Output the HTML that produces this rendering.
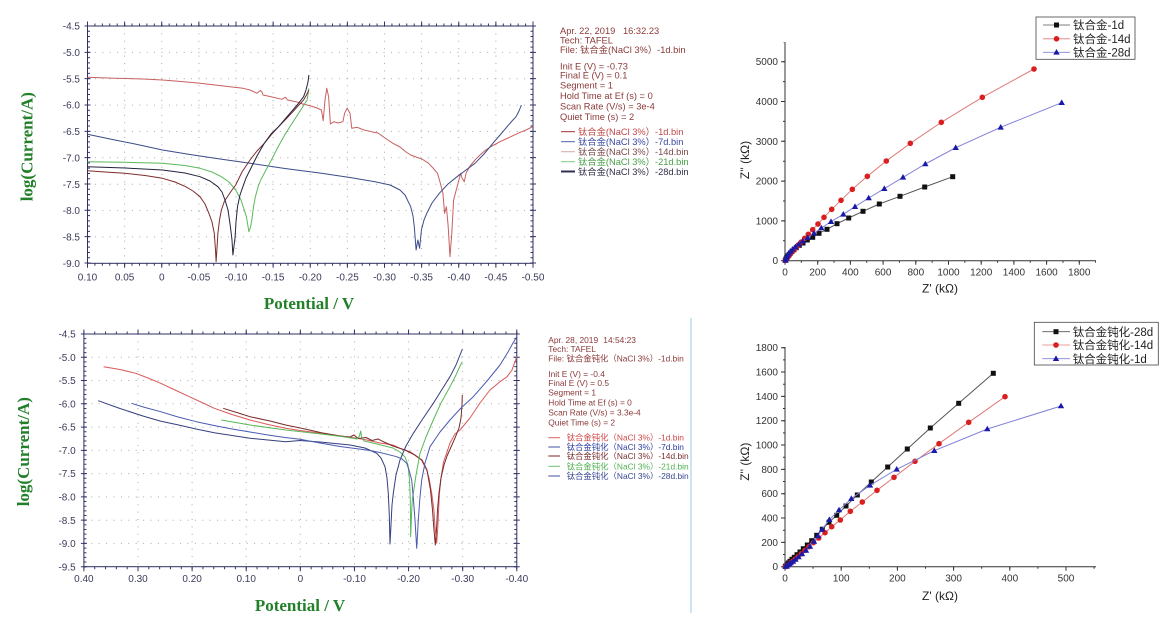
<!DOCTYPE html>
<html><head><meta charset="utf-8"><style>
html,body{margin:0;padding:0;background:#fff;}
svg{display:block}
.tk{font-family:"Liberation Sans","Noto Sans CJK SC",sans-serif;font-size:10px;fill:#3b3b5b}
.tk2{font-family:"Liberation Sans",sans-serif;font-size:10px;fill:#333}
.ttl{font-family:"Liberation Serif",serif;font-weight:bold;font-size:17px;fill:#23802a}
.inf{font-family:"Liberation Sans","Noto Sans CJK SC",sans-serif;font-size:9.3px;fill:#8b3a3a}
.inf2{font-family:"Liberation Sans","Noto Sans CJK SC",sans-serif;font-size:8.4px;fill:#8b3a3a}
.lg{font-family:"Liberation Sans","Noto Sans CJK SC",sans-serif;font-size:11.5px;fill:#222}
.ax{font-family:"Liberation Sans",sans-serif;font-size:12px;fill:#222}
.grid{stroke:#a9a9a9;stroke-width:1;stroke-dasharray:1 6.4;fill:none}
.c{fill:none;stroke-width:1;stroke-linejoin:round}
</style></head><body>
<svg width="1165" height="624" viewBox="0 0 1165 624" xmlns="http://www.w3.org/2000/svg">
<defs>
<marker id="msq" viewBox="-3 -3 6 6" markerWidth="6" markerHeight="6" refX="0" refY="0" markerUnits="userSpaceOnUse"><rect x="-2.5" y="-2.5" width="5" height="5" fill="#111"/></marker>
<marker id="mci" viewBox="-3 -3 6 6" markerWidth="6" markerHeight="6" refX="0" refY="0" markerUnits="userSpaceOnUse"><circle r="2.8" fill="#d81e1e"/></marker>
<marker id="mtr" viewBox="-3.5 -3.5 7 7" markerWidth="7" markerHeight="7" refX="0" refY="0" markerUnits="userSpaceOnUse"><path d="M0,-3.3 L3.2,2.3 L-3.2,2.3Z" fill="#1a1aa8"/></marker>
</defs>
<rect width="1165" height="624" fill="#fff"/>

<!-- ================= TOP LEFT TAFEL ================= -->
<g>
<g class="grid">
<line x1="124.6" y1="26" x2="124.6" y2="263.3"/><line x1="161.75" y1="26" x2="161.75" y2="263.3"/><line x1="198.9" y1="26" x2="198.9" y2="263.3"/><line x1="236" y1="26" x2="236" y2="263.3"/><line x1="273.1" y1="26" x2="273.1" y2="263.3"/><line x1="310.25" y1="26" x2="310.25" y2="263.3"/><line x1="347.4" y1="26" x2="347.4" y2="263.3"/><line x1="384.5" y1="26" x2="384.5" y2="263.3"/><line x1="421.6" y1="26" x2="421.6" y2="263.3"/><line x1="458.75" y1="26" x2="458.75" y2="263.3"/><line x1="495.9" y1="26" x2="495.9" y2="263.3"/>
<line x1="87.5" y1="52.4" x2="533" y2="52.4"/><line x1="87.5" y1="78.7" x2="533" y2="78.7"/><line x1="87.5" y1="105.1" x2="533" y2="105.1"/><line x1="87.5" y1="131.5" x2="533" y2="131.5"/><line x1="87.5" y1="157.8" x2="533" y2="157.8"/><line x1="87.5" y1="184.2" x2="533" y2="184.2"/><line x1="87.5" y1="210.6" x2="533" y2="210.6"/><line x1="87.5" y1="236.9" x2="533" y2="236.9"/>
</g>
<rect x="87.5" y="26" width="445.5" height="237.3" fill="none" stroke="#2f2f5f" stroke-width="1"/>
<g stroke="#34346a" fill="none">
<line x1="87" y1="24.75" x2="534" y2="24.75" stroke-width="2.5" stroke-dasharray="1 6.425"/>
<line x1="87" y1="264.55" x2="534" y2="264.55" stroke-width="2.5" stroke-dasharray="1 6.425"/>
<line x1="87" y1="23.75" x2="534" y2="23.75" stroke-width="4.5" stroke-dasharray="1 36.125"/>
<line x1="87" y1="265.55" x2="534" y2="265.55" stroke-width="4.5" stroke-dasharray="1 36.125"/>
<line x1="88.75" y1="25.5" x2="88.75" y2="264" stroke-width="2.5" stroke-dasharray="1 4.266"/>
<line x1="531.75" y1="25.5" x2="531.75" y2="264" stroke-width="2.5" stroke-dasharray="1 4.266"/>
<line x1="87.5" y1="25.5" x2="87.5" y2="264" stroke-width="6" stroke-dasharray="1 25.33"/>
<line x1="533" y1="25.5" x2="533" y2="264" stroke-width="6" stroke-dasharray="1 25.33"/>
</g>
<g class="tk" text-anchor="middle">
<text x="87.5" y="280.3">0.10</text><text x="124.6" y="280.3">0.05</text><text x="161.75" y="280.3">0</text><text x="198.9" y="280.3">-0.05</text><text x="236" y="280.3">-0.10</text><text x="273.1" y="280.3">-0.15</text><text x="310.25" y="280.3">-0.20</text><text x="347.4" y="280.3">-0.25</text><text x="384.5" y="280.3">-0.30</text><text x="421.6" y="280.3">-0.35</text><text x="458.75" y="280.3">-0.40</text><text x="495.9" y="280.3">-0.45</text><text x="533" y="280.3">-0.50</text>
</g>
<g class="tk" text-anchor="end">
<text x="80" y="29.6">-4.5</text><text x="80" y="56">-5.0</text><text x="80" y="82.3">-5.5</text><text x="80" y="108.7">-6.0</text><text x="80" y="135.1">-6.5</text><text x="80" y="161.4">-7.0</text><text x="80" y="187.8">-7.5</text><text x="80" y="214.2">-8.0</text><text x="80" y="240.5">-8.5</text><text x="80" y="266.9">-9.0</text>
</g>
<text class="ttl" x="309" y="309" text-anchor="middle">Potential / V</text>
<text class="ttl" transform="translate(32.5,146.7) rotate(-90)" text-anchor="middle">log(Current/A)</text>

<path class="c" stroke="#c86060" d="M87.5,77.3 L100,77.8 L115,78.2 L130,78.6 L143,79 L155,79.6 L162.5,80 L175,81 L187,82 L200,83.3 L215,85 L230,86.8 L243,88.3 L250,90 L257,93.3 L259,91.5 L260.5,90.5 L262,92 L263,95 L270,96.5 L282,99.3 L284,98 L285.5,97.3 L287.5,100 L296,101.7 L303,104 L311,106 L317,108 L321.4,110 L323.2,120.7 L325,100 L326.8,88.3 L328.6,96.7 L330.4,124 L333.9,121.7 L338,123 L342.9,121.7 L344.6,113.3 L347.1,108.3 L350,113.3 L351.8,128.3 L357.1,127.3 L364,130 L371.4,131.7 L378,133 L385,138 L392.9,143.3 L400,147 L406,152 L410.7,155 L416,157 L422,159 L428.6,163.3 L433,168 L437.5,173.3 L440,182 L442.9,193.3 L444.6,213.3 L446.4,206.7 L448.2,226.7 L450,256.7 L451.8,233.3 L453.6,200 L457.1,186.7 L460.7,173.3 L462,178 L464.3,181.7 L466,173.3 L470,166 L475,160 L480,155 L485.7,150 L492,146 L500,141.7 L508,138 L517.9,133.3 L526,130 L533,126.5"/>
<path class="c" stroke="#3c4c88" d="M87.5,134.3 L110,139 L135,144 L162.5,150 L190,154.5 L220,159 L250,163.3 L285,168.5 L321.4,173.3 L350,177.5 L375,181.7 L390,185 L400,190 L405,195 L410.7,206.7 L413,216 L414.3,226.7 L416.1,250 L417.9,240 L419.6,248.3 L421.4,230 L424,220 L426.8,213.3 L432,203 L439.3,193.3 L448,184 L457.1,176.7 L466,170 L475,163.3 L484,154 L492.9,143.3 L500,135 L507.1,126.7 L512,121 L516.1,116.7 L519,111 L521.4,105"/>
<path class="c" stroke="#5cb85c" d="M87.5,161.7 L125,162.3 L162.5,163.3 L185,165.5 L200,168.3 L212,172 L221.4,176.7 L229,182 L235.7,190 L241,200 L246.4,216.7 L248.9,231.7 L250.3,228 L251.8,220 L253.5,207 L255.4,196.7 L258,187 L260.7,180 L266,170 L271.4,160 L278,147 L285.7,133.3 L291,125 L296.4,116.7 L302,108 L307.1,100 L308.9,88.3"/>
<path class="c" stroke="#7b2d2d" d="M87.5,170.7 L105,172 L125,173.3 L145,175.5 L162.5,178.3 L175,182 L185.7,186.7 L193,191 L200,196.7 L205,204 L208.9,213.3 L212,222 L214.3,233.3 L215.5,250 L216.1,261.7 L217,248 L217.9,233.3 L219.5,220 L221.4,210 L224.5,201 L228.6,195 L232,190 L235.7,185 L242,172 L250,160 L257,151 L264.3,143.3 L271,135 L278.6,126.7 L286,119 L292.9,111.7 L298,106 L303.6,100 L306.5,95 L308.9,90"/>
<path class="c" stroke="#23233f" d="M87.5,166.7 L125,168 L162.5,170 L185,173 L200,176.7 L210,181 L217.9,186.7 L222,192 L225,200 L228,210 L230.4,226.7 L232,240 L232.9,255 L234,246 L235,238.3 L236,222 L237.5,206.7 L240,195 L242.9,186.7 L246,178 L250,170 L257,156 L264.3,143.3 L271,134 L278.6,126.7 L286,118 L292.9,110 L298,104 L303.6,96.7 L306,90 L308,82 L308.9,75"/>
</g>

<!-- TL info text -->
<g class="inf">
<text x="560" y="34">Apr. 22, 2019</text><text x="623" y="34">16:32.23</text>
<text x="560" y="43.3">Tech: TAFEL</text>
<text x="560" y="53">File: 钛合金(NaCl 3%）-1d.bin</text>
<text x="560" y="69.3">Init E (V) = -0.73</text>
<text x="560" y="78.3">Final E (V) = 0.1</text>
<text x="560" y="88.3">Segment = 1</text>
<text x="560" y="98.8">Hold Time at Ef (s) = 0</text>
<text x="560" y="109.3">Scan Rate (V/s) = 3e-4</text>
<text x="560" y="120">Quiet Time (s) = 2</text>
</g>
<g stroke-width="1">
<line x1="561" y1="131.7" x2="575" y2="131.7" stroke="#a03030"/>
<line x1="561" y1="141.7" x2="575" y2="141.7" stroke="#5060a8"/>
<line x1="561" y1="151.7" x2="575" y2="151.7" stroke="#d0a8a8"/>
<line x1="561" y1="161.7" x2="575" y2="161.7" stroke="#80c880"/>
<line x1="561" y1="171.5" x2="575" y2="171.5" stroke="#303050" stroke-width="2"/>
</g>
<g class="inf">
<text x="578" y="135" fill="#c04848">钛合金(NaCl 3%）-1d.bin</text>
<text x="578" y="145" fill="#3848a0">钛合金(NaCl 3%）-7d.bin</text>
<text x="578" y="155" fill="#7a4a4a">钛合金(NaCl 3%）-14d.bin</text>
<text x="578" y="165" fill="#48a048">钛合金(NaCl 3%）-21d.bin</text>
<text x="578" y="174.8" fill="#303048">钛合金(NaCl 3%）-28d.bin</text>
</g>

<!-- ================= BOTTOM LEFT TAFEL ================= -->
<g>
<g class="grid">
<line x1="138" y1="334" x2="138" y2="566.7"/><line x1="192.1" y1="334" x2="192.1" y2="566.7"/><line x1="246.2" y1="334" x2="246.2" y2="566.7"/><line x1="300.35" y1="334" x2="300.35" y2="566.7"/><line x1="354.5" y1="334" x2="354.5" y2="566.7"/><line x1="408.6" y1="334" x2="408.6" y2="566.7"/><line x1="462.7" y1="334" x2="462.7" y2="566.7"/>
<line x1="83.9" y1="357.3" x2="516.8" y2="357.3"/><line x1="83.9" y1="380.5" x2="516.8" y2="380.5"/><line x1="83.9" y1="403.8" x2="516.8" y2="403.8"/><line x1="83.9" y1="427.1" x2="516.8" y2="427.1"/><line x1="83.9" y1="450.4" x2="516.8" y2="450.4"/><line x1="83.9" y1="473.6" x2="516.8" y2="473.6"/><line x1="83.9" y1="496.9" x2="516.8" y2="496.9"/><line x1="83.9" y1="520.2" x2="516.8" y2="520.2"/><line x1="83.9" y1="543.4" x2="516.8" y2="543.4"/>
</g>
<rect x="83.9" y="334" width="432.9" height="232.7" fill="none" stroke="#2f2f5f" stroke-width="1"/>
<g stroke="#34346a" fill="none">
<line x1="83.4" y1="332.75" x2="518" y2="332.75" stroke-width="2.5" stroke-dasharray="1 9.822"/>
<line x1="83.4" y1="567.95" x2="518" y2="567.95" stroke-width="2.5" stroke-dasharray="1 9.822"/>
<line x1="83.4" y1="331.75" x2="518" y2="331.75" stroke-width="4.5" stroke-dasharray="1 53.11"/>
<line x1="83.4" y1="568.95" x2="518" y2="568.95" stroke-width="4.5" stroke-dasharray="1 53.11"/>
<line x1="85.15" y1="333.5" x2="85.15" y2="567.5" stroke-width="2.5" stroke-dasharray="1 3.654"/>
<line x1="515.55" y1="333.5" x2="515.55" y2="567.5" stroke-width="2.5" stroke-dasharray="1 3.654"/>
<line x1="83.9" y1="333.5" x2="83.9" y2="567.5" stroke-width="6" stroke-dasharray="1 22.27"/>
<line x1="516.8" y1="333.5" x2="516.8" y2="567.5" stroke-width="6" stroke-dasharray="1 22.27"/>
</g>
<g class="tk" text-anchor="middle">
<text x="83.9" y="581.8">0.40</text><text x="138" y="581.8">0.30</text><text x="192.1" y="581.8">0.20</text><text x="246.2" y="581.8">0.10</text><text x="300.35" y="581.8">0</text><text x="354.5" y="581.8">-0.10</text><text x="408.6" y="581.8">-0.20</text><text x="462.7" y="581.8">-0.30</text><text x="516.8" y="581.8">-0.40</text>
</g>
<g class="tk" text-anchor="end">
<text x="75.7" y="337.6">-4.5</text><text x="75.7" y="360.9">-5.0</text><text x="75.7" y="384.1">-5.5</text><text x="75.7" y="407.4">-6.0</text><text x="75.7" y="430.7">-6.5</text><text x="75.7" y="454">-7.0</text><text x="75.7" y="477.2">-7.5</text><text x="75.7" y="500.5">-8.0</text><text x="75.7" y="523.8">-8.5</text><text x="75.7" y="547">-9.0</text><text x="75.7" y="570.3">-9.5</text>
</g>
<text class="ttl" x="300" y="611" text-anchor="middle">Potential / V</text>
<text class="ttl" transform="translate(29,451.7) rotate(-90)" text-anchor="middle">log(Current/A)</text>

<path class="c" stroke="#d85a5a" d="M103.6,366.7 L120,369.5 L135.7,373.3 L148,378 L160.7,383.3 L175,390 L189.3,396.7 L202,402.5 L214.3,408.3 L232,414.5 L250,420 L268,424.5 L285.7,428.3 L300,430.5 L321.4,433.3 L333.3,435 L357.1,438.3 L366.7,440 L380,443 L392.9,445 L400,448.3 L410.7,452 L416.7,456.7 L421.4,460 L426.7,470 L429,478 L431.7,493.3 L433.9,510 L435,526.7 L436.7,543.3 L437.8,528 L439.3,495 L441,478 L443.5,462 L446.7,453 L450,443 L455,434 L460,430 L470,418 L480,403 L490,390 L500,381.7 L507.1,376.7 L512,370 L516.8,356.7"/>
<path class="c" stroke="#7a2a2a" d="M223.2,408.3 L240,413.5 L250,416.7 L270,421 L285.7,425 L305,429 L321.4,432.7 L340,436 L350,437 L354,435 L358,438.5 L366,437.5 L372,440.5 L378,439 L384,442 L392.9,446 L405,450 L415,455 L422,460 L427,470 L430.5,490 L432.5,510 L434,530 L435.3,545 L436.5,530 L437.5,510 L439,493 L441,478 L444,465 L447,456 L451,447 L455,438 L459,428 L461,418 L462,405 L462.3,395"/>
<path class="c" stroke="#58b858" d="M221.4,420 L250,425 L285.7,430 L321.4,434 L345,437 L357,439 L359.5,436 L360.7,431 L361.8,438 L364,441 L375,443.5 L392.9,448 L400,452 L405,457 L408,465 L409.5,480 L410.3,500 L410.7,536.7 L411.5,515 L412.3,500 L413.3,493.3 L416,475 L420,453.3 L426,437 L433.3,420 L441,403 L450,386.7 L456,375 L460,366 L462.3,361.7"/>
<path class="c" stroke="#35407e" d="M98.2,400.7 L120,408.5 L142.9,416 L160,421 L178.6,425 L196,429 L214.3,432.7 L232,435.5 L250,438.3 L268,440 L285.7,441.7 L300,440.5 L320,442 L335,443.5 L350,445 L365,448 L376.7,453.3 L381,458 L385,466.7 L387,478 L388.3,493.3 L389.3,515 L390,544 L391,525 L392,505 L393.3,493.3 L396,475 L400,460 L406,446 L413.3,433.3 L422,420 L433.3,403.3 L441,391 L450,376.7 L456,365 L460,355 L462.3,349.3"/>
<path class="c" stroke="#4a5ab0" d="M131.4,403.3 L145,407.5 L160.7,411.7 L178,417 L196.4,421.7 L214,425.5 L232.1,429 L250,432 L267.9,435 L285,437.5 L300,439.3 L320,443 L340,446.5 L366.7,450 L380,452.5 L396.7,456.7 L402,459 L406.7,463.3 L409,470 L411.7,480 L413.5,500 L415,520 L416.7,548.3 L417.5,535 L418.3,520 L420,497 L421.7,480 L425,463 L430,446.7 L440,432 L450,420 L461,408 L473.3,396.7 L487,381 L500,365 L508,352 L513,343 L516.8,336.7"/>
</g>

<!-- BL info text -->
<g class="inf2">
<text x="548.3" y="343">Apr. 28, 2019</text><text x="603.3" y="343">14:54:23</text>
<text x="548.3" y="352">Tech: TAFEL</text>
<text x="548.3" y="361.3">File: 钛合金钝化（NaCl 3%）-1d.bin</text>
<text x="548.3" y="377">Init E (V) = -0.4</text>
<text x="548.3" y="386">Final E (V) = 0.5</text>
<text x="548.3" y="395.3">Segment = 1</text>
<text x="548.3" y="405.3">Hold Time at Ef (s) = 0</text>
<text x="548.3" y="415.3">Scan Rate (V/s) = 3.3e-4</text>
<text x="548.3" y="425.7">Quiet Time (s) = 2</text>
</g>
<g stroke-width="1">
<line x1="548.3" y1="437.7" x2="560" y2="437.7" stroke="#e06060"/>
<line x1="548.3" y1="447" x2="560" y2="447" stroke="#4050a0"/>
<line x1="548.3" y1="456" x2="560" y2="456" stroke="#7a2a2a"/>
<line x1="548.3" y1="466.3" x2="560" y2="466.3" stroke="#70c070"/>
<line x1="548.3" y1="476" x2="560" y2="476" stroke="#4050a0"/>
</g>
<g class="inf2">
<text x="566.7" y="440.7" fill="#d04848">钛合金钝化（NaCl 3%）-1d.bin</text>
<text x="566.7" y="450" fill="#3040a0">钛合金钝化（NaCl 3%）-7d.bin</text>
<text x="566.7" y="459" fill="#7a3030">钛合金钝化（NaCl 3%）-14d.bin</text>
<text x="566.7" y="469.3" fill="#50b050">钛合金钝化（NaCl 3%）-21d.bin</text>
<text x="566.7" y="479" fill="#384890">钛合金钝化（NaCl 3%）-28d.bin</text>
</g>

<line x1="691" y1="318" x2="691" y2="613" stroke="#a8d4ea" stroke-width="1.2"/>

<!-- ================= TOP RIGHT NYQUIST ================= -->
<g>
<line x1="785" y1="42" x2="785" y2="261" stroke="#333" stroke-width="1"/>
<line x1="784.5" y1="260.7" x2="1096" y2="260.7" stroke="#333" stroke-width="1"/>
<g stroke="#333" fill="none">
<line x1="783" y1="261.2" x2="783" y2="42" stroke-width="4" stroke-dasharray="1 38.8"/>
<line x1="784" y1="261.2" x2="784" y2="42" stroke-width="2" stroke-dasharray="1 18.9"/>
<line x1="784.5" y1="262.7" x2="1096" y2="262.7" stroke-width="4" stroke-dasharray="1 31.7"/>
<line x1="784.5" y1="261.7" x2="1096" y2="261.7" stroke-width="2" stroke-dasharray="1 15.35"/>
</g>
<g class="tk2" text-anchor="end">
<text x="778" y="264.2">0</text><text x="778" y="224.4">1000</text><text x="778" y="184.6">2000</text><text x="778" y="144.8">3000</text><text x="778" y="105">4000</text><text x="778" y="65.2">5000</text>
</g>
<g class="tk2" text-anchor="middle">
<text x="785" y="275.3">0</text><text x="817.7" y="275.3">200</text><text x="850.4" y="275.3">400</text><text x="883.1" y="275.3">600</text><text x="915.8" y="275.3">800</text><text x="948.5" y="275.3">1000</text><text x="981.2" y="275.3">1200</text><text x="1013.9" y="275.3">1400</text><text x="1046.6" y="275.3">1600</text><text x="1079.3" y="275.3">1800</text>
</g>
<text class="ax" x="940" y="292.5" text-anchor="middle">Z' (kΩ)</text>
<text class="ax" transform="translate(749,160) rotate(-90)" text-anchor="middle">Z'' (kΩ)</text>

<polyline class="c" stroke="#555" stroke-width="0.8" marker-start="url(#msq)" marker-mid="url(#msq)" marker-end="url(#msq)" points="785.3,260.3 786,259 786.7,257.7 787.7,256 789,254.7 790.3,253 792,251.3 794,249.7 796.3,247.7 799.3,245.3 803,243 807.3,240 812.7,237.3 819,233.3 827,229.3 837,223.7 848.7,218 863,211.3 879.3,204 900,196.3 924.7,187 952.7,176.7"/>
<polyline class="c" stroke="#e07a7a" stroke-width="0.8" marker-start="url(#mci)" marker-mid="url(#mci)" marker-end="url(#mci)" points="785.5,260.3 786.3,259.3 787,258.3 788,257 789,255.7 790.3,254 792,252 794,250 796,247.7 798.3,245 801.3,242 804.7,238.3 808.3,234.3 812.7,229.7 818,224 824,217.3 831.7,209.3 841,200.3 852.3,189.3 867.3,176.3 886.3,161 910.3,143.3 941.3,122.3 982.3,97.3 1034,69"/>
<polyline class="c" stroke="#8080d8" stroke-width="0.8" marker-start="url(#mtr)" marker-mid="url(#mtr)" marker-end="url(#mtr)" points="785.5,260.3 786,258.3 786.7,256.7 787.7,255 789,253.3 790.7,251.3 792.7,249.3 795.3,247 798.7,244.3 802.7,241.3 807.7,237.7 814,233.3 821.3,228 831,221.7 843.3,214.3 855,206.7 868.7,198 884.3,188.7 903,177.3 925.3,164 955.7,147.7 1000.7,127.3 1061.7,102.7"/>

<rect x="1036" y="17" width="99" height="42.3" fill="#fff" stroke="#444" stroke-width="0.8"/>
<line x1="1043" y1="25" x2="1070" y2="25" stroke="#555" stroke-width="0.8"/>
<rect x="1054" y="22.5" width="5" height="5" fill="#111"/>
<line x1="1043" y1="38.8" x2="1070" y2="38.8" stroke="#e07a7a" stroke-width="0.8"/>
<circle cx="1056.5" cy="38.8" r="2.8" fill="#d81e1e"/>
<line x1="1043" y1="52.3" x2="1070" y2="52.3" stroke="#8080d8" stroke-width="0.8"/>
<path d="M1056.5,49 L1059.7,54.6 L1053.3,54.6Z" fill="#1a1aa8"/>
<text class="lg" x="1073" y="29.2">钛合金-1d</text>
<text class="lg" x="1073" y="43">钛合金-14d</text>
<text class="lg" x="1073" y="56.5">钛合金-28d</text>
</g>

<!-- ================= BOTTOM RIGHT NYQUIST ================= -->
<g>
<line x1="785" y1="347" x2="785" y2="567.2" stroke="#333" stroke-width="1"/>
<line x1="784.5" y1="566.7" x2="1096" y2="566.7" stroke="#333" stroke-width="1"/>
<g stroke="#333" fill="none">
<line x1="783" y1="567.2" x2="783" y2="347" stroke-width="4" stroke-dasharray="1 23.33"/>
<line x1="784" y1="567.2" x2="784" y2="347" stroke-width="2" stroke-dasharray="1 11.165"/>
<line x1="784.5" y1="568.7" x2="1096" y2="568.7" stroke-width="4" stroke-dasharray="1 55.2"/>
<line x1="784.5" y1="567.7" x2="1096" y2="567.7" stroke-width="2" stroke-dasharray="1 27.1"/>
</g>
<g class="tk2" text-anchor="end">
<text x="778" y="570.2">0</text><text x="778" y="545.9">200</text><text x="778" y="521.5">400</text><text x="778" y="497.2">600</text><text x="778" y="472.9">800</text><text x="778" y="448.6">1000</text><text x="778" y="424.2">1200</text><text x="778" y="399.9">1400</text><text x="778" y="375.5">1600</text><text x="778" y="351.2">1800</text>
</g>
<g class="tk2" text-anchor="middle">
<text x="785" y="581.3">0</text><text x="841.2" y="581.3">100</text><text x="897.4" y="581.3">200</text><text x="953.6" y="581.3">300</text><text x="1009.8" y="581.3">400</text><text x="1066" y="581.3">500</text>
</g>
<text class="ax" x="940" y="600.2" text-anchor="middle">Z' (kΩ)</text>
<text class="ax" transform="translate(749,461.7) rotate(-90)" text-anchor="middle">Z'' (kΩ)</text>

<polyline class="c" stroke="#555" stroke-width="0.8" marker-start="url(#msq)" marker-mid="url(#msq)" marker-end="url(#msq)" points="785.3,566.3 786,566 787,564.7 788.3,563 790,561.3 792,559.3 794.3,557.3 797,554.7 800,552 803.3,548.7 807.3,545 811.7,540.7 816.7,535.3 822.3,529.3 829,522.3 836.7,515.3 846,506 857.3,495 871.3,482 887.7,467 907.3,449 930.3,428 958.7,403.3 993.3,373.3"/>
<polyline class="c" stroke="#e07a7a" stroke-width="0.8" marker-start="url(#mci)" marker-mid="url(#mci)" marker-end="url(#mci)" points="785.5,566.5 786.7,566 787.7,565.2 789.3,564 791,562.5 793,561 795.3,559 798,556.7 801.3,553.7 805,550.3 809,546.7 813.3,542.7 818.7,538 825,532.7 831.7,526.7 840.3,520 850.3,511.3 862.3,502 877,490.3 894,477.3 915,461.3 939,443.7 968.7,422.3 1005,396.7"/>
<polyline class="c" stroke="#8080d8" stroke-width="0.8" marker-start="url(#mtr)" marker-mid="url(#mtr)" marker-end="url(#mtr)" points="785.5,566.5 786.7,566.3 787.7,565 789,563.8 790.7,563 793,561.5 795.5,559.5 798.5,557 802,554 806,550.5 810,546.5 814,541.5 818,536 822,529.5 829.3,519.7 839,510 851.3,498.7 870,485.3 896.7,469.3 934.3,450.7 987.3,429 1061,406"/>

<rect x="1034.3" y="322.3" width="124" height="42.7" fill="#fff" stroke="#444" stroke-width="0.8"/>
<line x1="1042.3" y1="331.7" x2="1070" y2="331.7" stroke="#555" stroke-width="0.8"/>
<rect x="1053.5" y="329.2" width="5" height="5" fill="#111"/>
<line x1="1042.3" y1="345" x2="1070" y2="345" stroke="#e07a7a" stroke-width="0.8"/>
<circle cx="1056" cy="345" r="2.8" fill="#d81e1e"/>
<line x1="1042.3" y1="358.7" x2="1070" y2="358.7" stroke="#8080d8" stroke-width="0.8"/>
<path d="M1056,355.4 L1059.2,361 L1052.8,361Z" fill="#1a1aa8"/>
<text class="lg" x="1072.7" y="335.8">钛合金钝化-28d</text>
<text class="lg" x="1072.7" y="349.2">钛合金钝化-14d</text>
<text class="lg" x="1072.7" y="362.9">钛合金钝化-1d</text>
</g>
</svg>
</body></html>
